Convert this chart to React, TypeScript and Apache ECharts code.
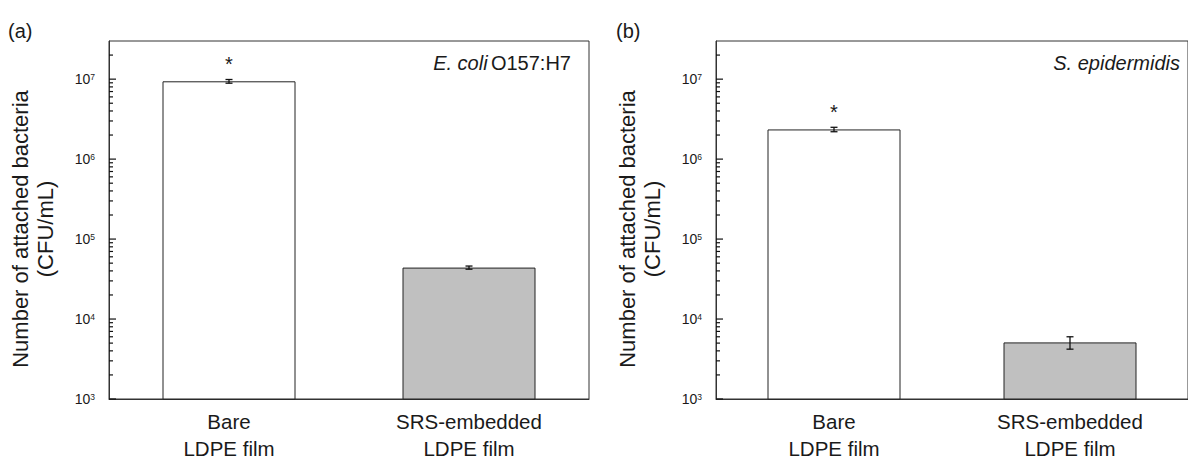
import React, { useEffect, useRef } from "react";
import * as echarts from "echarts";

const categories = ["Bare\nLDPE film", "SRS-embedded\nLDPE film"];
const ecoliMean = [9.4e6, 4.4e4];
const ecoliErr = [0.5e6, 0.2e4];
const sepiMean = [2.35e6, 5.1e3];
const sepiErr = [0.15e6, 0.9e3];
const significance = ["*", ""];
const majorTicks = [1e3, 1e4, 1e5, 1e6, 1e7];
const minorTicks = [
  2e3, 3e3, 4e3, 5e3, 6e3, 7e3, 8e3, 9e3,
  2e4, 3e4, 4e4, 5e4, 6e4, 7e4, 8e4, 9e4,
  2e5, 3e5, 4e5, 5e5, 6e5, 7e5, 8e5, 9e5,
  2e6, 3e6, 4e6, 5e6, 6e6, 7e6, 8e6, 9e6,
  2e7,
];
const Y_MIN = 1e3;
const Y_MAX = 3e7;

const FONT = "'Liberation Sans', Arial, sans-serif";
const TXT = "#1a1a1a";
const LINE = "#333333";
const FILLS = ["#ffffff", "#c0c0c0"];

const lg = (v: number) => Math.log10(v);

export default function App() {
  const ref = useRef<HTMLDivElement>(null);
  useEffect(() => {
    if (!ref.current) return;
    const chart = echarts.init(ref.current, null, { renderer: "svg" });

    const grids = [
      { left: 109, top: 41, width: 480, height: 358 },
      { left: 716, top: 41, width: 480, height: 358 },
    ];

    const xAxes = grids.map((_, gi) => ({
      type: "category",
      gridIndex: gi,
      data: categories,
      axisLine: { show: true, lineStyle: { color: LINE, width: 1 } },
      axisTick: { show: false },
      axisLabel: {
        color: TXT,
        fontSize: 20.5,
        fontFamily: FONT,
        lineHeight: 27,
        margin: 9,
      },
    }));

    const yAxes = grids.map((_, gi) => ({
      type: "value",
      gridIndex: gi,
      position: "left",
      min: lg(Y_MIN),
      max: lg(Y_MAX),
      axisLine: { show: true, lineStyle: { color: LINE, width: 1 } },
      splitLine: { show: false },
      axisTick: { show: false },
      axisLabel: {
        show: true,
        margin: 14,
        fontSize: 14,
        customValues: majorTicks.map(lg),
        formatter: (v: number) => `{b|10}{s|${Math.round(v)}}`,
        rich: {
          b: { fontSize: 14, color: TXT, fontFamily: FONT },
          s: { fontSize: 8.5, color: TXT, fontFamily: FONT, verticalAlign: "top" },
        },
      },
    }));

    const datasets = [
      { mean: ecoliMean, err: ecoliErr },
      { mean: sepiMean, err: sepiErr },
    ];

    const series: any[] = [];
    datasets.forEach((d, gi) => {
      series.push({
        type: "bar",
        xAxisIndex: gi,
        yAxisIndex: gi,
        barWidth: 133,
        clip: true,
        data: d.mean.map((v, i) => ({
          value: lg(v),
          itemStyle: { color: FILLS[i], borderColor: "#222", borderWidth: 1 },
        })),
      });
      // log-scale tick marks along the y axis (major and minor)
      series.push({
        type: "custom",
        xAxisIndex: gi,
        yAxisIndex: gi,
        silent: true,
        clip: false,
        data: [
          ...majorTicks.map((v) => [0, lg(v), 1]),
          ...minorTicks.map((v) => [0, lg(v), 0]),
        ],
        renderItem: (params: any, api: any) => {
          const y = api.coord([0, api.value(1)])[1];
          const x0 = params.coordSys.x;
          const len = api.value(2) === 1 ? 7 : 4;
          return {
            type: "line",
            shape: { x1: x0, y1: y, x2: x0 + len, y2: y },
            style: { stroke: "#111111", lineWidth: 1.2 },
            z2: 10,
          };
        },
        z: 8,
      });
      series.push({
        type: "custom",
        xAxisIndex: gi,
        yAxisIndex: gi,
        data: d.mean.map((v, i) => [i, lg(v + d.err[i]), lg(v - d.err[i])]),
        renderItem: (params: any, api: any) => {
          const i = api.value(0);
          const top = api.coord([i, api.value(1)]);
          const bot = api.coord([i, api.value(2)]);
          const x = top[0];
          const cw = 3.5;
          const st = { stroke: "#111", lineWidth: 1.3 };
          return {
            type: "group",
            children: [
              { type: "line", shape: { x1: x, y1: top[1], x2: x, y2: bot[1] }, style: st },
              { type: "line", shape: { x1: x - cw, y1: top[1], x2: x + cw, y2: top[1] }, style: st },
              { type: "line", shape: { x1: x - cw, y1: bot[1], x2: x + cw, y2: bot[1] }, style: st },
            ],
          };
        },
        z: 5,
      });
      series.push({
        type: "custom",
        xAxisIndex: gi,
        yAxisIndex: gi,
        data: d.mean.map((v, i) => [i, lg(v + d.err[i])]),
        renderItem: (params: any, api: any) => {
          const idx = params.dataIndex;
          const p = api.coord([api.value(0), api.value(1)]);
          return {
            type: "text",
            style: {
              text: significance[idx],
              x: p[0],
              y: p[1] - 15.5,
              align: "center",
              verticalAlign: "middle",
              fontSize: 20,
              fontFamily: FONT,
              fill: TXT,
            },
          };
        },
        z: 6,
      });
    });

    const yTitle = (cx: number) => ({
      type: "text",
      x: cx,
      y: 229,
      rotation: Math.PI / 2,
      style: {
        text: "Number of attached bacteria\n(CFU/mL)",
        align: "center",
        verticalAlign: "middle",
        fontSize: 22,
        lineHeight: 25,
        fontFamily: FONT,
        fill: TXT,
      },
    });

    chart.setOption({
      animation: false,
      backgroundColor: "#ffffff",
      grid: grids.map((g) => ({ ...g, show: true, borderColor: LINE, borderWidth: 1 })),
      xAxis: xAxes,
      yAxis: yAxes,
      series,
      graphic: [
        {
          type: "text",
          x: 8,
          y: 31,
          style: { text: "(a)", fontSize: 20, fontFamily: FONT, fill: TXT, align: "left", verticalAlign: "middle" },
        },
        {
          type: "text",
          x: 616,
          y: 31,
          style: { text: "(b)", fontSize: 20, fontFamily: FONT, fill: TXT, align: "left", verticalAlign: "middle" },
        },
        {
          type: "text",
          x: 571,
          y: 63,
          style: {
            text: "{i|E. coli} {n|O157:H7}",
            align: "right",
            verticalAlign: "middle",
            rich: {
              i: { fontSize: 20, fontStyle: "italic", fontFamily: FONT, fill: TXT, color: TXT },
              n: { fontSize: 20, fontFamily: FONT, fill: TXT, color: TXT },
            },
          },
        },
        {
          type: "text",
          x: 1180,
          y: 63,
          style: {
            text: "S. epidermidis",
            align: "right",
            verticalAlign: "middle",
            fontSize: 20,
            fontStyle: "italic",
            fontFamily: FONT,
            fill: TXT,
          },
        },
        yTitle(33),
        yTitle(640),
      ],
    });

    return () => chart.dispose();
  }, []);

  return (
    <div
      ref={ref}
      style={{ position: "absolute", left: 0, top: 0, width: 1188, height: 466 }}
    />
  );
}
